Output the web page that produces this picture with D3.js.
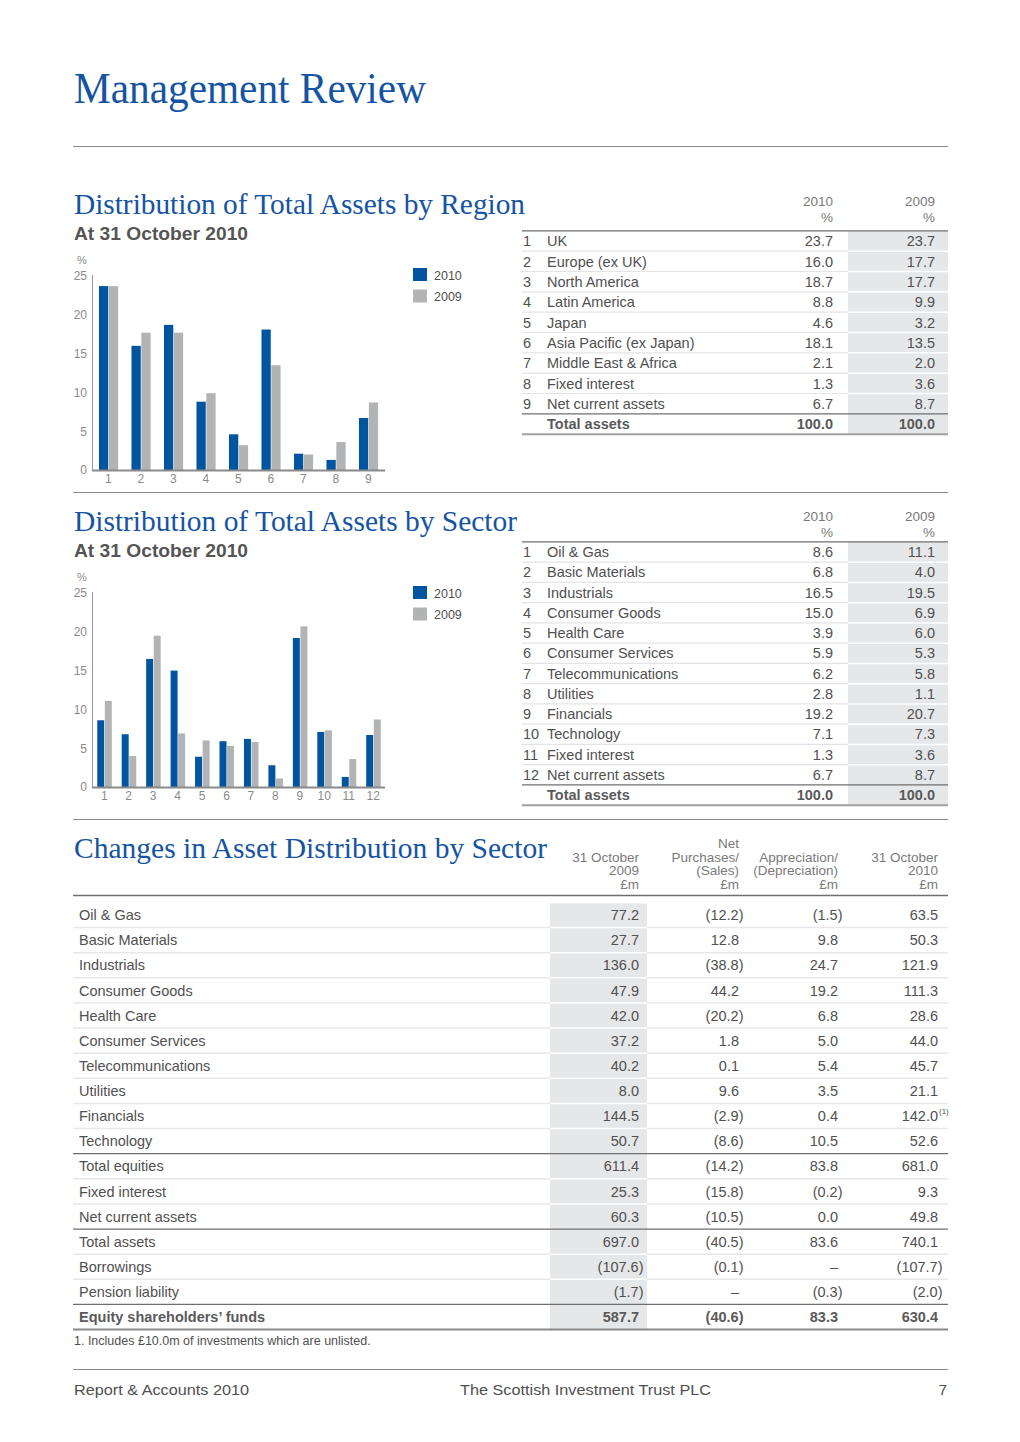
<!DOCTYPE html>
<html><head><meta charset="utf-8">
<script src="https://cdn.jsdelivr.net/npm/d3@7"></script>
<style>body{margin:0;background:#fff}svg{display:block}</style>
</head><body>
<script>
// ---------- DATA ----------
const years = ["2010", "2009"];
const regionNames = ["UK","Europe (ex UK)","North America","Latin America","Japan","Asia Pacific (ex Japan)","Middle East & Africa","Fixed interest","Net current assets"];
const region2010 = [23.7,16.0,18.7,8.8,4.6,18.1,2.1,1.3,6.7];
const region2009 = [23.7,17.7,17.7,9.9,3.2,13.5,2.0,3.6,8.7];
const sectorNames = ["Oil & Gas","Basic Materials","Industrials","Consumer Goods","Health Care","Consumer Services","Telecommunications","Utilities","Financials","Technology","Fixed interest","Net current assets"];
const sector2010 = [8.6,6.8,16.5,15.0,3.9,5.9,6.2,2.8,19.2,7.1,1.3,6.7];
const sector2009 = [11.1,4.0,19.5,6.9,6.0,5.3,5.8,1.1,20.7,7.3,3.6,8.7];
const yTicks = [0,5,10,15,20,25];
const changeHeaders = [["31 October","2009","£m"],["Net","Purchases/","(Sales)","£m"],["Appreciation/","(Depreciation)","£m"],["31 October","2010","£m"]];
const changeLabels = ["Oil & Gas","Basic Materials","Industrials","Consumer Goods","Health Care","Consumer Services","Telecommunications","Utilities","Financials","Technology","Total equities","Fixed interest","Net current assets","Total assets","Borrowings","Pension liability","Equity shareholders’ funds"];
const changeOct2009 = ["77.2","27.7","136.0","47.9","42.0","37.2","40.2","8.0","144.5","50.7","611.4","25.3","60.3","697.0","(107.6)","(1.7)","587.7"];
const changeNetPurch = ["(12.2)","12.8","(38.8)","44.2","(20.2)","1.8","0.1","9.6","(2.9)","(8.6)","(14.2)","(15.8)","(10.5)","(40.5)","(0.1)","–","(40.6)"];
const changeApprec = ["(1.5)","9.8","24.7","19.2","6.8","5.0","5.4","3.5","0.4","10.5","83.8","(0.2)","0.0","83.6","–","(0.3)","83.3"];
const changeOct2010 = ["63.5","50.3","121.9","111.3","28.6","44.0","45.7","21.1","142.0","52.6","681.0","9.3","49.8","740.1","(107.7)","(2.0)","630.4"];
const footnoteRows = {8: "(1)"};
const totalsBefore = [10, 13, 16];

// ---------- STYLE ----------
const BLUE = "#0054a0", GREY = "#b1b3b4", TITLE = "#1554a3", TXT = "#505050", FILL = "#e6e7e8";
const SERIF = "'Liberation Serif','DejaVu Serif',serif", SANS = "'Liberation Sans',Arial,sans-serif";

const svg = d3.select("body").append("svg").attr("width",1020).attr("height",1442);

function hline(y,x1,x2,color,w){svg.append("line").attr("x1",x1).attr("x2",x2).attr("y1",y).attr("y2",y).attr("stroke",color).attr("stroke-width",w||1);}
function text(x,y,s,o){const t=svg.append("text").attr("x",x).attr("y",y).text(s)
  .attr("font-family",o.family||SANS).attr("font-size",o.size||15).attr("fill",o.fill||TXT)
  .attr("text-anchor",o.anchor||"start").attr("font-weight",o.weight||"normal");
  if(o.len) t.attr("textLength",o.len).attr("lengthAdjust","spacingAndGlyphs");
  if(o.dy) t.attr("dy",o.dy); return t;}

// Page title
text(74,103,"Management Review",{family:SERIF,size:44,fill:TITLE,len:352});
hline(146.5,73,948,"#8a8a8a",1);

// ---------- BAR CHART ----------
function barChart(cfg){
  const {top,bottom,vals10,vals09,n} = cfg;
  const x = d3.scaleBand().domain(d3.range(1,n+1)).range([92,92+cfg.step*n]).padding(0);
  const y = d3.scaleLinear().domain([0,25]).range([bottom,top]);
  const g = svg.append("g");
  const bw = x.bandwidth()*0.285;
  const data = d3.range(n).map(i=>({k:i+1,a:vals10[i],b:vals09[i]}));
  g.selectAll(".b10").data(data).join("rect")
    .attr("x",d=>x(d.k)+x.bandwidth()/2-bw).attr("width",bw)
    .attr("y",d=>y(d.a)).attr("height",d=>y(0)-y(d.a)).attr("fill",BLUE);
  g.selectAll(".b09").data(data).join("rect")
    .attr("x",d=>x(d.k)+x.bandwidth()/2+0.6).attr("width",bw)
    .attr("y",d=>y(d.b)).attr("height",d=>y(0)-y(d.b)).attr("fill",GREY);
  // y axis
  const ya = svg.append("g").attr("transform","translate(92,0)")
    .call(d3.axisLeft(y).tickValues(yTicks).tickSize(0).tickPadding(5).tickFormat(d3.format("d")));
  ya.select(".domain").attr("stroke","#9a9a9a").attr("stroke-width",1).attr("d",`M0.5,${top-1}V${bottom}`);
  ya.selectAll("text").attr("font-family",SANS).attr("font-size",12).attr("fill","#8a8a8a");
  text(82,top-12,"%",{size:11,fill:"#8a8a8a",anchor:"middle"});
  // x axis
  const xa = svg.append("g").attr("transform",`translate(0,${bottom})`)
    .call(d3.axisBottom(x).tickSize(0).tickPadding(4));
  xa.select(".domain").attr("stroke","#8a8a8a").attr("stroke-width",2).attr("d",`M92,0.5H385`);
  xa.selectAll("text").attr("font-family",SANS).attr("font-size",12).attr("fill","#8a8a8a");
  // legend
  years.forEach((yr,i)=>{
    svg.append("rect").attr("x",413).attr("y",cfg.legTop+i*21.5).attr("width",14).attr("height",13)
      .attr("fill",i===0?BLUE:GREY);
    text(434,cfg.legTop+i*21.5+11.5,yr,{size:12.5,fill:"#505050"});
  });
}

// ---------- SMALL TABLE ----------
function smallTable(cfg){
  const {names,v10,v09,first,step,hdrY} = cfg;
  const n = names.length+1;
  const top = first-step/2, bot = first+(n-1)*step+step/2;
  svg.append("rect").attr("x",848).attr("y",top).attr("width",100).attr("height",bot-top).attr("fill",FILL);
  text(833,hdrY,"2010",{size:13.5,fill:"#7a7a7a",anchor:"end"});
  text(833,hdrY+16,"%",{size:13.5,fill:"#7a7a7a",anchor:"end"});
  text(935,hdrY,"2009",{size:13.5,fill:"#7a7a7a",anchor:"end"});
  text(935,hdrY+16,"%",{size:13.5,fill:"#7a7a7a",anchor:"end"});
  for(let i=1;i<n-1;i++){
    const yy = top+i*step;
    hline(yy,522,848,"#e4e4e4",1.2); hline(yy,848,948,"#ffffff",1.5);
  }
  hline(top,522,948,"#6f6f6f",1.3);
  hline(top+(n-1)*step,522,948,"#6f6f6f",1.3);
  hline(bot,522,948,"#a0a0a0",2);
  names.forEach((nm,i)=>{
    const cy = first+i*step;
    text(523,cy,String(i+1),{size:14.5,dy:"0.36em"});
    text(547,cy,nm,{size:14.5,dy:"0.36em"});
    text(833,cy,v10[i].toFixed(1),{size:14.5,anchor:"end",dy:"0.36em"});
    text(935,cy,v09[i].toFixed(1),{size:14.5,anchor:"end",dy:"0.36em"});
  });
  const ty = first+(n-1)*step;
  text(547,ty,"Total assets",{size:14.5,weight:"bold",fill:"#5a5a5a",dy:"0.36em"});
  text(833,ty,d3.sum(v10).toFixed(1),{size:14.5,weight:"bold",fill:"#5a5a5a",anchor:"end",dy:"0.36em"});
  text(935,ty,d3.sum(v09).toFixed(1),{size:14.5,weight:"bold",fill:"#5a5a5a",anchor:"end",dy:"0.36em"});
}

// Section 1
text(74,214,"Distribution of Total Assets by Region",{family:SERIF,size:30,fill:TITLE,len:451});
text(74,240,"At 31 October 2010",{size:19,weight:"bold",fill:"#555555",len:174});
barChart({top:276,bottom:470,vals10:region2010,vals09:region2009,n:9,step:32.5,legTop:268});
smallTable({names:regionNames,v10:region2010,v09:region2009,first:241,step:20.33,hdrY:206});
hline(492.5,73,948,"#8a8a8a",1);

// Section 2
text(74,531,"Distribution of Total Assets by Sector",{family:SERIF,size:30,fill:TITLE,len:443});
text(74,557,"At 31 October 2010",{size:19,weight:"bold",fill:"#555555",len:174});
barChart({top:593,bottom:787,vals10:sector2010,vals09:sector2009,n:12,step:24.45,legTop:586});
smallTable({names:sectorNames,v10:sector2010,v09:sector2009,first:552,step:20.25,hdrY:521});
hline(819.5,73,948,"#8a8a8a",1);

// Section 3
text(74,858,"Changes in Asset Distribution by Sector",{family:SERIF,size:30,fill:TITLE,len:473});
const colX = [639,739,838,938];
changeHeaders.forEach((lines,c)=>{
  const base = 889 - (lines.length-1)*13.7;
  lines.forEach((s,j)=>text(colX[c],base+j*13.7,s,{size:13.5,fill:"#7a7a7a",anchor:"end"}));
});
const cFirst = 915, cStep = 25.125, nRows = changeLabels.length;
const cTop = cFirst-cStep/2, cBot = cFirst+(nRows-1)*cStep+cStep/2;
svg.append("rect").attr("x",550).attr("y",cTop+1).attr("width",97).attr("height",cBot-cTop-1).attr("fill",FILL);
hline(895.5,73,948,"#6f6f6f",1.3);
for(let i=1;i<nRows;i++){
  const yy = cTop+i*cStep;
  if(totalsBefore.includes(i)) hline(yy,73,948,"#6f6f6f",1.3);
  else { hline(yy,73,550,"#e8e8e8",1.5); hline(yy,550,647,"#ffffff",1.5); hline(yy,647,948,"#e8e8e8",1.5); }
}
hline(cBot,73,948,"#8a8a8a",2);
const cols = [changeOct2009,changeNetPurch,changeApprec,changeOct2010];
changeLabels.forEach((lab,i)=>{
  const cy = cFirst+i*cStep, last = i===nRows-1;
  const o = {size:14.5,dy:"0.36em",weight:last?"bold":"normal",fill:last?"#5a5a5a":TXT};
  text(79,cy,lab,o);
  cols.forEach((col,c)=>{
    const s = col[i];
    const xx = s.endsWith(")") ? colX[c]+4.5 : colX[c];
    text(xx,cy,s,Object.assign({},o,{anchor:"end"}));
  });
  if(footnoteRows[i]) text(colX[3]+1,cy-2.5,footnoteRows[i],{size:8,fill:TXT});
});
text(74,1345,"1.  Includes £10.0m of investments which are unlisted.",{size:12.5,fill:TXT});

// Footer
hline(1369.5,73,948,"#8a8a8a",1);
text(74,1395,"Report & Accounts 2010",{size:15.5,fill:TXT,len:175});
text(460,1395,"The Scottish Investment Trust PLC",{size:15.5,fill:TXT,len:251});
text(947,1395,"7",{size:15.5,fill:TXT,anchor:"end"});
</script>
</body></html>
